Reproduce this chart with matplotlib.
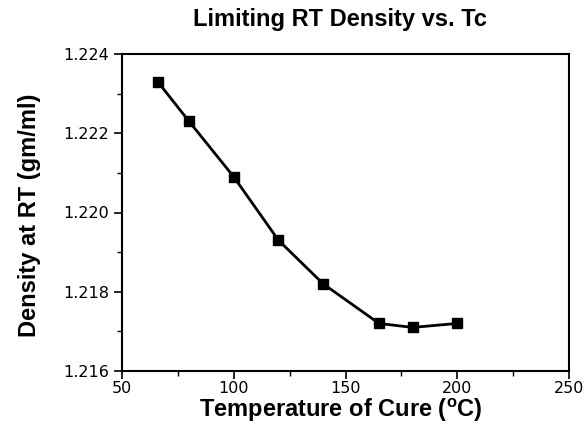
import matplotlib
matplotlib.use("Agg")
import matplotlib.pyplot as plt
from matplotlib.ticker import MultipleLocator

# values
cure_temp = [66, 80, 100, 120, 140, 165, 180, 200]
density = [1.2233, 1.2223, 1.2209, 1.2193, 1.2182, 1.2172, 1.2171, 1.2172]
x_ticks = [50, 100, 150, 200, 250]
y_ticks = [1.216, 1.218, 1.220, 1.222, 1.224]

plt.rcParams["font.family"] = ["Liberation Sans", "DejaVu Sans"]
plt.rcParams["mathtext.fontset"] = "custom"
plt.rcParams["mathtext.bf"] = "Liberation Sans:bold"
plt.rcParams["mathtext.rm"] = "Liberation Sans"

fig = plt.figure(figsize=(5.88, 4.45), dpi=100)
ax = fig.add_axes([122 / 588, 1 - 371 / 445, (569 - 122) / 588, (371 - 54) / 445])

ax.plot(cure_temp, density, color="black", linewidth=2.0, marker="s", markersize=7)

ax.set_xlim(50, 250)
ax.set_ylim(1.216, 1.224)
ax.set_xticks(x_ticks)
ax.set_yticks(y_ticks)
ax.set_yticklabels([f"{v:.3f}" for v in y_ticks])
ax.xaxis.set_minor_locator(MultipleLocator(25))
ax.yaxis.set_minor_locator(MultipleLocator(0.001))
ax.tick_params(which="major", direction="out", length=5.5, width=1.2)
ax.tick_params(which="minor", direction="out", length=3.5, width=1.0)
ax.tick_params(axis="x", pad=2)
ax.tick_params(axis="y", pad=4)
for lab in ax.get_xticklabels() + ax.get_yticklabels():
    lab.set_fontfamily("DejaVu Sans")
    lab.set_fontsize(11.5)
for s in ax.spines.values():
    s.set_linewidth(1.5)

fig.text(0.578, 1 - 26 / 445, "Limiting RT Density vs. Tc", ha="center", va="baseline",
         fontsize=17, fontweight="bold")
fig.text(0.58, 1 - 417 / 445, r"Temperature of Cure ($^{\mathbf{o}}$C)", ha="center", va="baseline",
         fontsize=17, fontweight="bold")
fig.text(30 / 588, 1 - 215 / 445, "Density at RT (gm/ml)", ha="center", va="center",
         rotation=90, fontsize=17, fontweight="bold")

fig.savefig("out.png", dpi=100)
